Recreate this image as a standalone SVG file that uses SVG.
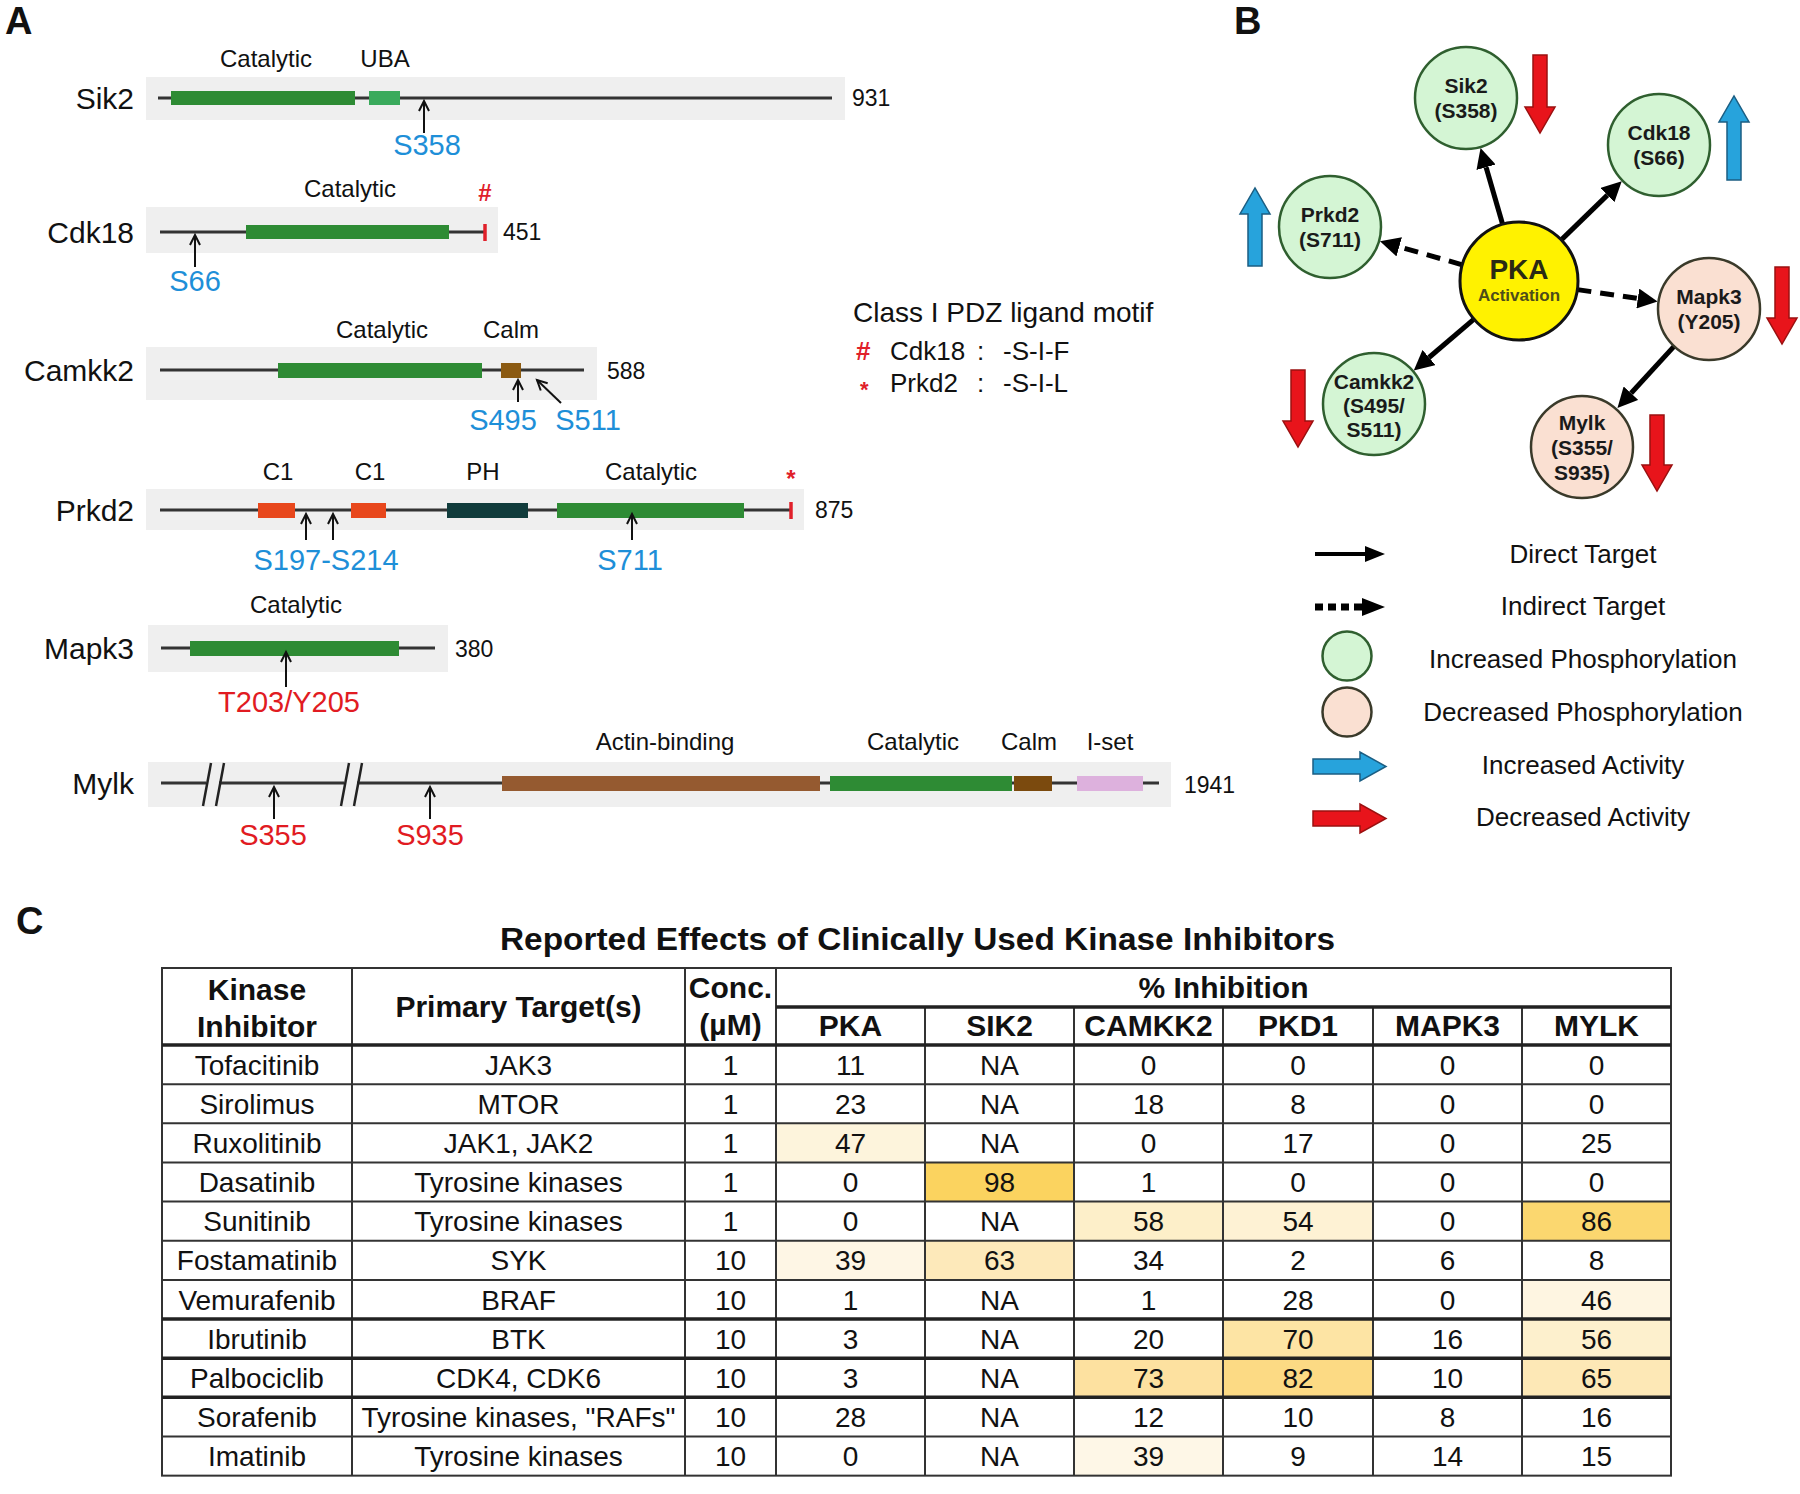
<svg xmlns="http://www.w3.org/2000/svg" width="1800" height="1494" viewBox="0 0 1800 1494">
<defs>
<style>
text{font-family:"Liberation Sans",Arial,sans-serif;fill:#111}
.pl{font-size:30px;text-anchor:end}
.dl{font-size:24px;text-anchor:middle}
.num{font-size:23px}
.sb{font-size:29px;text-anchor:middle;fill:#1e8fd8}
.sr{font-size:29px;text-anchor:middle;fill:#e11b22}
.box{fill:#efefef}
.bb{stroke:#333;stroke-width:3;fill:none}
.cat{fill:#2e8b34}
.site{stroke:#111;stroke-width:2;fill:none;marker-end:url(#chev)}
.tick{stroke:#e0202a;stroke-width:3.5}
.mk{fill:#e0202a;text-anchor:middle;font-size:24px;font-weight:bold}
.panel{font-size:38px;font-weight:bold}
.nd{font-size:21px;font-weight:bold;text-anchor:middle;fill:#1a1a1a}
.inc{fill:#d4f5d4;stroke:#2f5f2f;stroke-width:2.5}
.dec{fill:#fae0d2;stroke:#3a3a2a;stroke-width:2.5}
.edge{stroke:#000;stroke-width:5;fill:none;marker-end:url(#ah)}
.dash{stroke-dasharray:14 9}
.up{fill:#27a3dc;stroke:#1b5e83;stroke-width:1.5}
.dn{fill:#e8141b;stroke:#9b1010;stroke-width:1.5}
.lg{font-size:26px;text-anchor:middle}
.th{font-size:30px;font-weight:bold;text-anchor:middle}
.td{font-size:28px;text-anchor:middle}
.gl{stroke:#333;stroke-width:2;fill:none}
.gt{stroke:#222;stroke-width:3.5;fill:none}
.brk{stroke:#222;stroke-width:2.5}
</style>
<marker id="chev" viewBox="-12 -7 15 14" markerWidth="15" markerHeight="14" refX="0" refY="0" orient="auto" markerUnits="userSpaceOnUse"><path d="M-10,-5 L0,0 L-10,5" fill="none" stroke="#111" stroke-width="2"/></marker>
<marker id="ah" viewBox="0 0 20 20" markerWidth="20" markerHeight="20" refX="0" refY="10" orient="auto" markerUnits="userSpaceOnUse"><path d="M0,0 L20,10 L0,20 z" fill="#000"/></marker>
</defs>
<rect width="1800" height="1494" fill="#fff"/>

<!-- Panel A -->
<text class="panel" x="5" y="34">A</text>

<g id="prot-sik2">
<rect class="box" x="146" y="77" width="699" height="43"/>
<line class="bb" x1="158" y1="98" x2="832" y2="98"/>
<rect class="cat" x="171" y="91" width="184" height="14"/>
<rect x="369" y="91" width="31" height="14" fill="#3aaa5c"/>
<text class="dl" x="266" y="67">Catalytic</text>
<text class="dl" x="385" y="67">UBA</text>
<text class="pl" x="134" y="109">Sik2</text>
<text class="num" x="852" y="106">931</text>
<line class="site" x1="424" y1="133" x2="424" y2="101"/>
<text class="sb" x="427" y="155">S358</text>
</g>

<g id="prot-cdk18">
<rect class="box" x="146" y="207" width="352" height="46"/>
<line class="bb" x1="160" y1="232" x2="484" y2="232"/>
<rect class="cat" x="246" y="225" width="203" height="14"/>
<line class="tick" x1="485" y1="224" x2="485" y2="241"/>
<text class="mk" x="485" y="201">#</text>
<text class="dl" x="350" y="197">Catalytic</text>
<text class="pl" x="134" y="243">Cdk18</text>
<text class="num" x="503" y="240">451</text>
<line class="site" x1="195" y1="267" x2="195" y2="235"/>
<text class="sb" x="195" y="291">S66</text>
</g>

<g id="prot-camkk2">
<rect class="box" x="146" y="347" width="451" height="53"/>
<line class="bb" x1="160" y1="370" x2="584" y2="370"/>
<rect class="cat" x="278" y="363" width="204" height="15"/>
<rect x="501" y="363" width="20" height="15" fill="#8b5a12"/>
<text class="dl" x="382" y="338">Catalytic</text>
<text class="dl" x="511" y="338">Calm</text>
<text class="pl" x="134" y="381">Camkk2</text>
<text class="num" x="607" y="379">588</text>
<line class="site" x1="518" y1="402" x2="518" y2="380"/>
<line class="site" x1="561" y1="403" x2="537" y2="380"/>
<text class="sb" x="503" y="430">S495</text>
<text class="sb" x="588" y="430">S511</text>
</g>

<g id="prot-prkd2">
<rect class="box" x="146" y="489" width="658" height="41"/>
<line class="bb" x1="160" y1="510" x2="791" y2="510"/>
<rect x="258" y="503" width="37" height="15" fill="#e8471c"/>
<rect x="351" y="503" width="35" height="15" fill="#e8471c"/>
<rect x="447" y="503" width="81" height="15" fill="#113c3c"/>
<rect class="cat" x="557" y="503" width="187" height="15"/>
<line class="tick" x1="791" y1="502" x2="791" y2="519"/>
<text class="dl" x="278" y="480">C1</text>
<text class="dl" x="370" y="480">C1</text>
<text class="dl" x="483" y="480">PH</text>
<text class="dl" x="651" y="480">Catalytic</text>
<text class="mk" x="791" y="487">*</text>
<text class="pl" x="134" y="521">Prkd2</text>
<text class="num" x="815" y="518">875</text>
<line class="site" x1="306" y1="540" x2="306" y2="514"/>
<line class="site" x1="333" y1="540" x2="333" y2="514"/>
<line class="site" x1="632" y1="540" x2="632" y2="514"/>
<text class="sb" x="326" y="570">S197-S214</text>
<text class="sb" x="630" y="570">S711</text>
</g>

<g id="prot-mapk3">
<rect class="box" x="148" y="625" width="300" height="47"/>
<line class="bb" x1="161" y1="648" x2="435" y2="648"/>
<rect class="cat" x="190" y="641" width="209" height="15"/>
<text class="dl" x="296" y="613">Catalytic</text>
<text class="pl" x="134" y="659">Mapk3</text>
<text class="num" x="455" y="657">380</text>
<line class="site" x1="286" y1="687" x2="286" y2="652"/>
<text class="sr" x="289" y="712">T203/Y205</text>
</g>

<g id="prot-mylk">
<rect class="box" x="148" y="762" width="1023" height="45"/>
<line class="bb" x1="161" y1="783" x2="206" y2="783"/>
<line class="bb" x1="219" y1="783" x2="344" y2="783"/>
<line class="bb" x1="357" y1="783" x2="1159" y2="783"/>
<line class="brk" x1="211" y1="763" x2="203" y2="806"/>
<line class="brk" x1="224" y1="763" x2="216" y2="806"/>
<line class="brk" x1="349" y1="763" x2="341" y2="806"/>
<line class="brk" x1="362" y1="763" x2="354" y2="806"/>
<rect x="502" y="776" width="318" height="15" fill="#955a30"/>
<rect class="cat" x="830" y="776" width="182" height="15"/>
<rect x="1014" y="776" width="38" height="15" fill="#7b4a0e"/>
<rect x="1077" y="776" width="66" height="15" fill="#ddb1dd"/>
<text class="dl" x="665" y="750">Actin-binding</text>
<text class="dl" x="913" y="750">Catalytic</text>
<text class="dl" x="1029" y="750">Calm</text>
<text class="dl" x="1110" y="750">I-set</text>
<text class="pl" x="134" y="794">Mylk</text>
<text class="num" x="1184" y="793">1941</text>
<line class="site" x1="274" y1="819" x2="274" y2="787"/>
<line class="site" x1="430" y1="819" x2="430" y2="787"/>
<text class="sr" x="273" y="845">S355</text>
<text class="sr" x="430" y="845">S935</text>
</g>

<g id="pdz-legend">
<text x="853" y="322" font-size="28">Class I PDZ ligand motif</text>
<text x="856" y="360" font-size="26" font-weight="bold" style="fill:#e0202a">#</text>
<text x="890" y="360" font-size="26">Cdk18</text>
<text x="977" y="360" font-size="26">:</text>
<text x="1003" y="360" font-size="26">-S-I-F</text>
<text x="860" y="397" font-size="22" font-weight="bold" style="fill:#e0202a">*</text>
<text x="890" y="392" font-size="26">Prkd2</text>
<text x="977" y="392" font-size="26">:</text>
<text x="1003" y="392" font-size="26">-S-I-L</text>
</g>

<!-- Panel B -->
<text class="panel" x="1234" y="34">B</text>

<g id="connectors">
<line class="edge" x1="1502.6" y1="224.3" x2="1486.1" y2="167.2"/>
<line class="edge" x1="1561.3" y1="239.9" x2="1607.4" y2="195.1"/>
<line class="edge dash" x1="1462.3" y1="264.8" x2="1399.2" y2="246.8"/>
<line class="edge dash" x1="1577.4" y1="289.6" x2="1637.8" y2="298.5"/>
<line class="edge" x1="1474" y1="319.2" x2="1429" y2="357.5"/>
<line class="edge" x1="1674" y1="346.4" x2="1631" y2="393.2"/>
</g>

<g id="node-pka">
<circle cx="1519" cy="281" r="59" fill="#fff200" stroke="#111" stroke-width="3"/>
<text x="1519" y="279" text-anchor="middle" font-size="28" font-weight="bold" style="fill:#2a2a14">PKA</text>
<text x="1519" y="301" text-anchor="middle" font-size="17" font-weight="bold" style="fill:#4d4d1a">Activation</text>
</g>
<g id="node-sik2">
<circle class="inc" cx="1466" cy="98" r="51"/>
<text class="nd" x="1466" y="93">Sik2</text>
<text class="nd" x="1466" y="118">(S358)</text>
<polygon class="dn" points="1533,55 1547,55 1547,107 1555,107 1540,133 1525,107 1533,107"/>
</g>
<g id="node-cdk18">
<circle class="inc" cx="1659" cy="145" r="51"/>
<text class="nd" x="1659" y="140">Cdk18</text>
<text class="nd" x="1659" y="165">(S66)</text>
<polygon class="up" points="1727,180 1741,180 1741,122 1749,122 1734,96 1719,122 1727,122"/>
</g>
<g id="node-prkd2">
<circle class="inc" cx="1330" cy="227" r="51"/>
<text class="nd" x="1330" y="222">Prkd2</text>
<text class="nd" x="1330" y="247">(S711)</text>
<polygon class="up" points="1248,266 1262,266 1262,214 1270,214 1255,188 1240,214 1248,214"/>
</g>
<g id="node-mapk3">
<circle class="dec" cx="1709" cy="309" r="51"/>
<text class="nd" x="1709" y="304">Mapk3</text>
<text class="nd" x="1709" y="329">(Y205)</text>
<polygon class="dn" points="1775,267 1789,267 1789,318 1797,318 1782,344 1767,318 1775,318"/>
</g>
<g id="node-camkk2">
<circle class="inc" cx="1374" cy="404" r="51"/>
<text class="nd" x="1374" y="389">Camkk2</text>
<text class="nd" x="1374" y="413">(S495/</text>
<text class="nd" x="1374" y="437">S511)</text>
<polygon class="dn" points="1291,370 1305,370 1305,421 1313,421 1298,447 1283,421 1291,421"/>
</g>
<g id="node-mylk">
<circle class="dec" cx="1582" cy="447" r="51"/>
<text class="nd" x="1582" y="430">Mylk</text>
<text class="nd" x="1582" y="455">(S355/</text>
<text class="nd" x="1582" y="480">S935)</text>
<polygon class="dn" points="1650,415 1664,415 1664,465 1672,465 1657,491 1642,465 1650,465"/>
</g>

<g id="legend-b">
<line x1="1315" y1="554" x2="1367" y2="554" stroke="#000" stroke-width="4"/>
<polygon points="1365,546 1385,554 1365,562" fill="#000"/>
<line x1="1315" y1="607" x2="1362" y2="607" stroke="#000" stroke-width="7" stroke-dasharray="8 5"/>
<polygon points="1362,598 1385,607 1362,616" fill="#000"/>
<circle class="inc" cx="1347" cy="656" r="24.5"/>
<circle class="dec" cx="1347" cy="712" r="24.5"/>
<polygon class="up" points="1313,759 1360,759 1360,752 1386,766.5 1360,781 1360,774 1313,774"/>
<polygon class="dn" points="1313,811 1360,811 1360,804 1386,818.5 1360,833 1360,826 1313,826"/>
<text class="lg" x="1583" y="563">Direct Target</text>
<text class="lg" x="1583" y="615">Indirect Target</text>
<text class="lg" x="1583" y="668">Increased Phosphorylation</text>
<text class="lg" x="1583" y="721">Decreased Phosphorylation</text>
<text class="lg" x="1583" y="774">Increased Activity</text>
<text class="lg" x="1583" y="826">Decreased Activity</text>
</g>

<!-- Panel C -->
<text class="panel" x="16" y="934">C</text>
<text x="917.5" y="950" text-anchor="middle" font-size="31" font-weight="bold" textLength="835" lengthAdjust="spacingAndGlyphs">Reported Effects of Clinically Used Kinase Inhibitors</text>

<g id="table">
<g id="cell-fills">
<rect x="776" y="1123.3" width="149" height="39.15" fill="#fdf4dc"/>
<rect x="925" y="1162.45" width="149" height="39.15" fill="#fbd35f"/>
<rect x="1074" y="1201.6" width="149" height="39.15" fill="#fdefc9"/>
<rect x="1223" y="1201.6" width="150" height="39.15" fill="#fef2d4"/>
<rect x="1522" y="1201.6" width="149" height="39.15" fill="#fbd76f"/>
<rect x="776" y="1240.75" width="149" height="39.15" fill="#fef6e5"/>
<rect x="925" y="1240.75" width="149" height="39.15" fill="#fde9ba"/>
<rect x="1522" y="1279.9" width="149" height="39.15" fill="#fef5e1"/>
<rect x="1223" y="1319.05" width="150" height="39.15" fill="#fde4a4"/>
<rect x="1522" y="1319.05" width="149" height="39.15" fill="#fdf0cd"/>
<rect x="1074" y="1358.2" width="149" height="39.15" fill="#fde1a0"/>
<rect x="1223" y="1358.2" width="150" height="39.15" fill="#fcda84"/>
<rect x="1522" y="1358.2" width="149" height="39.15" fill="#fde8b6"/>
<rect x="1074" y="1436.5" width="149" height="39.15" fill="#fef7e7"/>
</g>
<g id="grid">
<rect class="gl" x="162" y="968" width="1509" height="507.65"/>
<line class="gl" x1="352" y1="968" x2="352" y2="1475.65"/>
<line class="gl" x1="685" y1="968" x2="685" y2="1475.65"/>
<line class="gl" x1="776" y1="968" x2="776" y2="1475.65"/>
<line class="gl" x1="925" y1="1007" x2="925" y2="1475.65"/>
<line class="gl" x1="1074" y1="1007" x2="1074" y2="1475.65"/>
<line class="gl" x1="1223" y1="1007" x2="1223" y2="1475.65"/>
<line class="gl" x1="1373" y1="1007" x2="1373" y2="1475.65"/>
<line class="gl" x1="1522" y1="1007" x2="1522" y2="1475.65"/>
<line class="gt" x1="776" y1="1007" x2="1671" y2="1007"/>
<line class="gt" x1="162" y1="1045" x2="1671" y2="1045"/>
<line class="gl" x1="162" y1="1084.15" x2="1671" y2="1084.15"/>
<line class="gl" x1="162" y1="1123.3" x2="1671" y2="1123.3"/>
<line class="gl" x1="162" y1="1162.45" x2="1671" y2="1162.45"/>
<line class="gl" x1="162" y1="1201.6" x2="1671" y2="1201.6"/>
<line class="gl" x1="162" y1="1240.75" x2="1671" y2="1240.75"/>
<line class="gl" x1="162" y1="1279.9" x2="1671" y2="1279.9"/>
<line class="gt" x1="162" y1="1319.05" x2="1671" y2="1319.05"/>
<line class="gt" x1="162" y1="1358.2" x2="1671" y2="1358.2"/>
<line class="gt" x1="162" y1="1397.35" x2="1671" y2="1397.35"/>
<line class="gl" x1="162" y1="1436.5" x2="1671" y2="1436.5"/>
</g>
<g id="header">
<text class="th" x="257" y="1000">Kinase</text>
<text class="th" x="257" y="1037">Inhibitor</text>
<text class="th" x="518.5" y="1017">Primary Target(s)</text>
<text class="th" x="730.5" y="998">Conc.</text>
<text class="th" x="730.5" y="1035">(µM)</text>
<text class="th" x="1223.5" y="998">% Inhibition</text>
<text class="th" x="850.5" y="1036">PKA</text>
<text class="th" x="999.5" y="1036">SIK2</text>
<text class="th" x="1148.5" y="1036">CAMKK2</text>
<text class="th" x="1298" y="1036">PKD1</text>
<text class="th" x="1447.5" y="1036">MAPK3</text>
<text class="th" x="1596.5" y="1036">MYLK</text>
</g>
<g id="rows" class="td">
<g transform="translate(0,1074.6)"><text class="td" x="257">Tofacitinib</text><text class="td" x="518.5">JAK3</text><text class="td" x="730.5">1</text><text class="td" x="850.5">11</text><text class="td" x="999.5">NA</text><text class="td" x="1148.5">0</text><text class="td" x="1298">0</text><text class="td" x="1447.5">0</text><text class="td" x="1596.5">0</text></g>
<g transform="translate(0,1113.75)"><text class="td" x="257">Sirolimus</text><text class="td" x="518.5">MTOR</text><text class="td" x="730.5">1</text><text class="td" x="850.5">23</text><text class="td" x="999.5">NA</text><text class="td" x="1148.5">18</text><text class="td" x="1298">8</text><text class="td" x="1447.5">0</text><text class="td" x="1596.5">0</text></g>
<g transform="translate(0,1152.9)"><text class="td" x="257">Ruxolitinib</text><text class="td" x="518.5">JAK1, JAK2</text><text class="td" x="730.5">1</text><text class="td" x="850.5">47</text><text class="td" x="999.5">NA</text><text class="td" x="1148.5">0</text><text class="td" x="1298">17</text><text class="td" x="1447.5">0</text><text class="td" x="1596.5">25</text></g>
<g transform="translate(0,1192.05)"><text class="td" x="257">Dasatinib</text><text class="td" x="518.5">Tyrosine kinases</text><text class="td" x="730.5">1</text><text class="td" x="850.5">0</text><text class="td" x="999.5">98</text><text class="td" x="1148.5">1</text><text class="td" x="1298">0</text><text class="td" x="1447.5">0</text><text class="td" x="1596.5">0</text></g>
<g transform="translate(0,1231.2)"><text class="td" x="257">Sunitinib</text><text class="td" x="518.5">Tyrosine kinases</text><text class="td" x="730.5">1</text><text class="td" x="850.5">0</text><text class="td" x="999.5">NA</text><text class="td" x="1148.5">58</text><text class="td" x="1298">54</text><text class="td" x="1447.5">0</text><text class="td" x="1596.5">86</text></g>
<g transform="translate(0,1270.35)"><text class="td" x="257">Fostamatinib</text><text class="td" x="518.5">SYK</text><text class="td" x="730.5">10</text><text class="td" x="850.5">39</text><text class="td" x="999.5">63</text><text class="td" x="1148.5">34</text><text class="td" x="1298">2</text><text class="td" x="1447.5">6</text><text class="td" x="1596.5">8</text></g>
<g transform="translate(0,1309.5)"><text class="td" x="257">Vemurafenib</text><text class="td" x="518.5">BRAF</text><text class="td" x="730.5">10</text><text class="td" x="850.5">1</text><text class="td" x="999.5">NA</text><text class="td" x="1148.5">1</text><text class="td" x="1298">28</text><text class="td" x="1447.5">0</text><text class="td" x="1596.5">46</text></g>
<g transform="translate(0,1348.65)"><text class="td" x="257">Ibrutinib</text><text class="td" x="518.5">BTK</text><text class="td" x="730.5">10</text><text class="td" x="850.5">3</text><text class="td" x="999.5">NA</text><text class="td" x="1148.5">20</text><text class="td" x="1298">70</text><text class="td" x="1447.5">16</text><text class="td" x="1596.5">56</text></g>
<g transform="translate(0,1387.8)"><text class="td" x="257">Palbociclib</text><text class="td" x="518.5">CDK4, CDK6</text><text class="td" x="730.5">10</text><text class="td" x="850.5">3</text><text class="td" x="999.5">NA</text><text class="td" x="1148.5">73</text><text class="td" x="1298">82</text><text class="td" x="1447.5">10</text><text class="td" x="1596.5">65</text></g>
<g transform="translate(0,1426.95)"><text class="td" x="257">Sorafenib</text><text class="td" x="518.5">Tyrosine kinases, "RAFs"</text><text class="td" x="730.5">10</text><text class="td" x="850.5">28</text><text class="td" x="999.5">NA</text><text class="td" x="1148.5">12</text><text class="td" x="1298">10</text><text class="td" x="1447.5">8</text><text class="td" x="1596.5">16</text></g>
<g transform="translate(0,1466.1)"><text class="td" x="257">Imatinib</text><text class="td" x="518.5">Tyrosine kinases</text><text class="td" x="730.5">10</text><text class="td" x="850.5">0</text><text class="td" x="999.5">NA</text><text class="td" x="1148.5">39</text><text class="td" x="1298">9</text><text class="td" x="1447.5">14</text><text class="td" x="1596.5">15</text></g>
</g>
</g>
</svg>
